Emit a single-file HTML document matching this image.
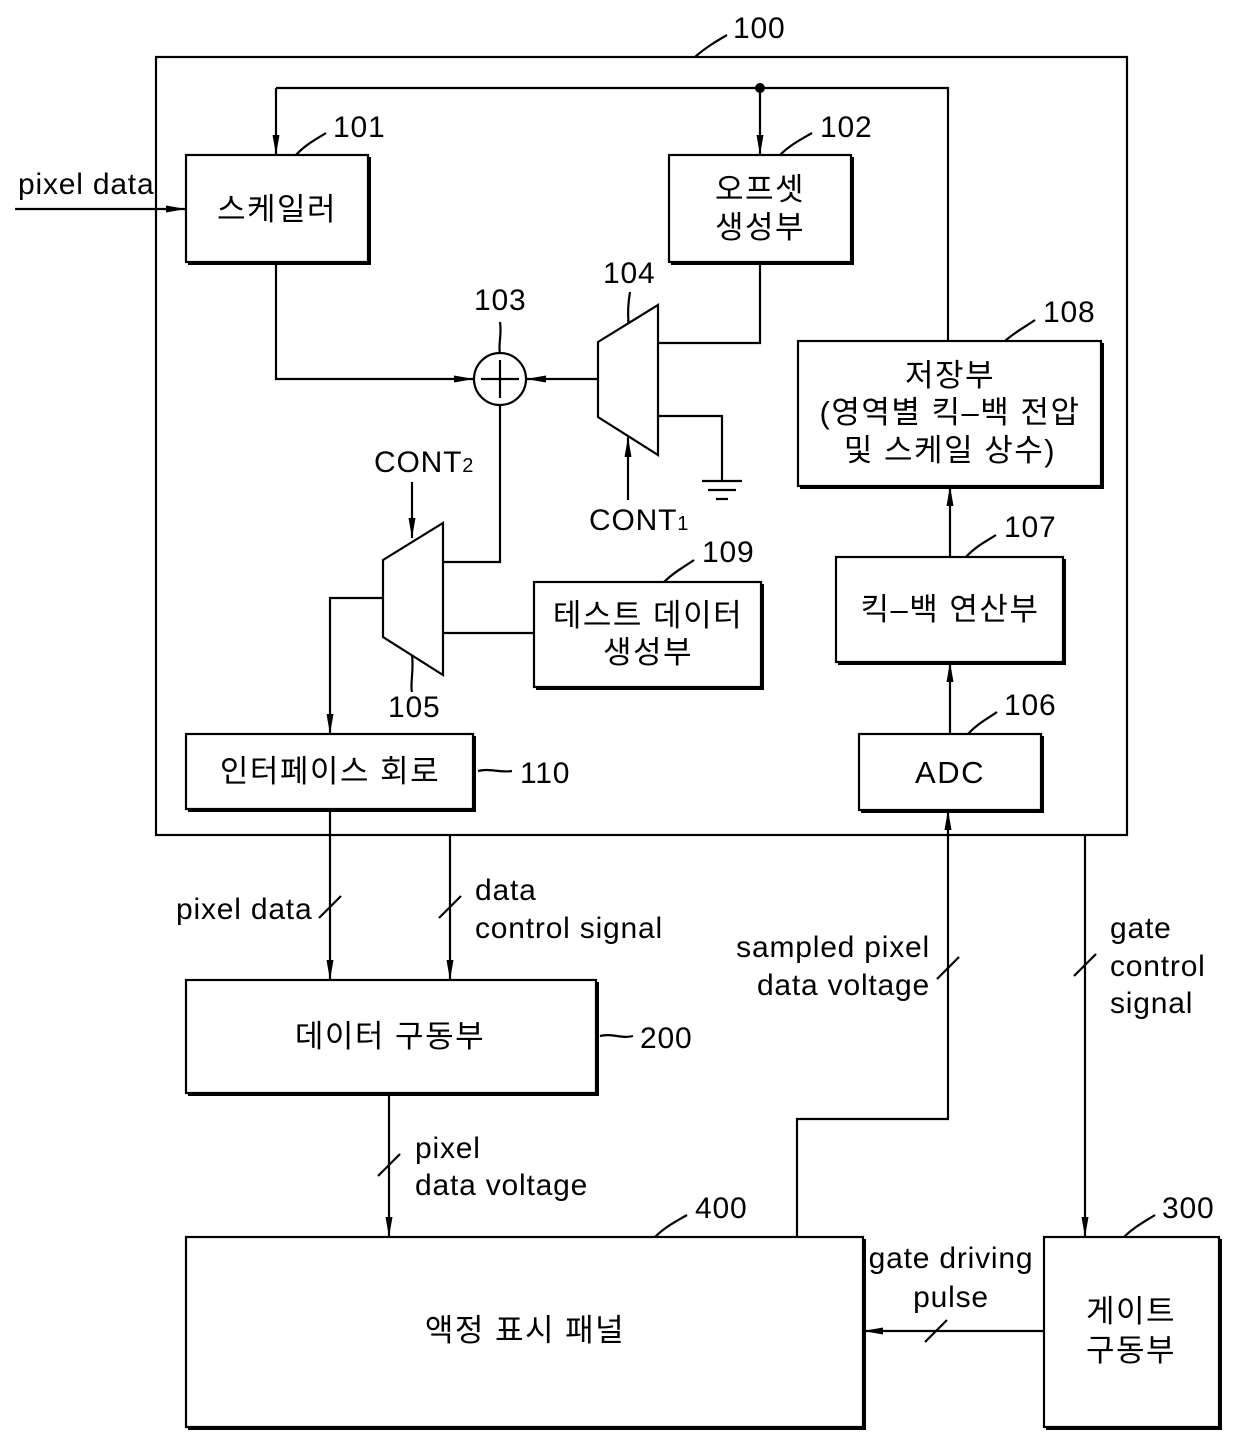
<!DOCTYPE html>
<html><head><meta charset="utf-8"><style>
html,body{margin:0;padding:0;background:#fff}
svg{display:block}
text{font-family:"Liberation Sans","Noto Sans CJK KR","NanumGothic",sans-serif;fill:#000}
.k{font-size:31px;letter-spacing:1.5px}
.l{font-size:30px;letter-spacing:0.8px}
</style></head><body>
<svg width="1240" height="1445" viewBox="0 0 1240 1445" xmlns="http://www.w3.org/2000/svg">
<defs>
<marker id="b" viewBox="0 0 20 10" refX="20" refY="5" markerWidth="20" markerHeight="10" markerUnits="userSpaceOnUse" orient="auto">
<path d="M0,1.5 L20,5 L0,8.5 z" fill="#000"/></marker>
</defs>
<g fill="none" stroke="#000" stroke-width="2.2">
<rect x="156" y="57" width="971" height="778"/>
<path d="M695,57 C705,48 715,42 727,35"/>
<rect x="186" y="155" width="182" height="107"/><path d="M369,157 V263 H188" stroke-width="4"/>
<rect x="669" y="155" width="182" height="107"/><path d="M852,157 V263 H671" stroke-width="4"/>
<rect x="798" y="341" width="303" height="145"/><path d="M1102,343 V487 H800" stroke-width="4"/>
<rect x="836" y="557" width="227" height="105"/><path d="M1064,559 V663 H838" stroke-width="4"/>
<rect x="534" y="582" width="227" height="105"/><path d="M762,584 V688 H536" stroke-width="4"/>
<rect x="186" y="734" width="287" height="75"/><path d="M474,736 V810 H188" stroke-width="4"/>
<rect x="859" y="734" width="182" height="76"/><path d="M1042,736 V811 H861" stroke-width="4"/>
<rect x="186" y="980" width="410" height="113"/><path d="M597,982 V1094 H188" stroke-width="4"/>
<rect x="186" y="1237" width="677" height="190"/><path d="M864,1239 V1428 H188" stroke-width="4"/>
<rect x="1044" y="1237" width="175" height="190"/><path d="M1220,1239 V1428 H1046" stroke-width="4"/>
<path d="M296,155 C305,145 315,140 326,133"/>
<path d="M780,155 C790,145 800,140 812,133"/>
<path d="M1005,341 C1015,332 1025,327 1035,320"/>
<path d="M966,557 C975,547 985,542 996,535"/>
<path d="M664,582 C674,572 684,567 694,560"/>
<path d="M968,734 C977,724 987,719 997,712"/>
<path d="M500,353 C498,345 502,335 500,322"/>
<path d="M628,320 C630,330 626,315 630,292"/>
<path d="M412,655 C414,670 410,685 412,692"/>
<path d="M478,771 C490,768 500,773 512,771"/>
<path d="M600,1036 C612,1033 622,1039 633,1036"/>
<path d="M655,1237 C665,1227 675,1222 687,1215"/>
<path d="M1124,1237 C1134,1227 1144,1222 1155,1215"/>
<path d="M276,88 H948 V341"/>
<path d="M276,88 V155" marker-end="url(#b)"/>
<path d="M760,88 V155" marker-end="url(#b)"/>
<path d="M15,209 H186" marker-end="url(#b)"/>
<circle cx="500" cy="379" r="26"/>
<path d="M500,360 V398 M481,379 H519"/>
<path d="M276,262 V379 H474" marker-end="url(#b)"/>
<path d="M598,379 H526" marker-end="url(#b)"/>
<path d="M598,342 L658,305 V455 L598,417 Z"/>
<path d="M760,262 V343 H658"/>
<path d="M658,416 H722 V480"/>
<path d="M702,481 H742 M708,490 H736 M716,499 H728"/>
<path d="M628,500 V437" marker-end="url(#b)"/>
<path d="M383,560 L443,523 V675 L383,637 Z"/>
<path d="M500,405 V562 H443"/>
<path d="M412,482 V538" marker-end="url(#b)"/>
<path d="M443,633 H534"/>
<path d="M383,598 H330 V734" marker-end="url(#b)"/>
<path d="M950,734 V662" marker-end="url(#b)"/>
<path d="M950,557 V486" marker-end="url(#b)"/>
<path d="M330,809 V980" marker-end="url(#b)"/>
<path d="M450,835 V980" marker-end="url(#b)"/>
<path d="M389,1093 V1237" marker-end="url(#b)"/>
<path d="M797,1237 V1119 H948 V810" marker-end="url(#b)"/>
<path d="M1085,835 V1237" marker-end="url(#b)"/>
<path d="M1044,1331 H863" marker-end="url(#b)"/>
<path d="M319,918 L341,896 M439,918 L461,896 M378,1176 L400,1154 M937,979 L959,957 M1074,976 L1096,954 M925,1342 L947,1320"/>
</g>
<circle cx="760" cy="88" r="5" fill="#000"/>
<g class="k" text-anchor="middle">
<text x="277" y="220">스케일러</text>
<text x="760" y="200">오프셋</text>
<text x="760" y="238">생성부</text>
<text x="950" y="386">저장부</text>
<text x="950" y="423">(영역별 킥–백 전압</text>
<text x="950" y="461">및 스케일 상수)</text>
<text x="950" y="620">킥–백 연산부</text>
<text x="648" y="626">테스트 데이터</text>
<text x="648" y="663">생성부</text>
<text x="330" y="782">인터페이스 회로</text>
<text x="950" y="783">ADC</text>
<text x="390" y="1047">데이터 구동부</text>
<text x="525" y="1341">액정 표시 패널</text>
<text x="1131" y="1322">게이트</text>
<text x="1131" y="1361">구동부</text>
</g>
<g class="l">
<text x="733" y="38">100</text>
<text x="333" y="137">101</text>
<text x="820" y="137">102</text>
<text x="474" y="310">103</text>
<text x="603" y="283">104</text>
<text x="388" y="717">105</text>
<text x="1004" y="715">106</text>
<text x="1004" y="537">107</text>
<text x="1043" y="322">108</text>
<text x="702" y="562">109</text>
<text x="520" y="783">110</text>
<text x="640" y="1048">200</text>
<text x="1162" y="1218">300</text>
<text x="695" y="1218">400</text>
<text x="18" y="194">pixel data</text>
<text x="374" y="472">CONT<tspan font-size="20">2</tspan></text>
<text x="589" y="530">CONT<tspan font-size="20">1</tspan></text>
<text x="176" y="919">pixel data</text>
<text x="475" y="900">data</text>
<text x="475" y="938">control signal</text>
<text x="930" y="957" text-anchor="end">sampled pixel</text>
<text x="930" y="995" text-anchor="end">data voltage</text>
<text x="1110" y="938">gate</text>
<text x="1110" y="976">control</text>
<text x="1110" y="1013">signal</text>
<text x="415" y="1158">pixel</text>
<text x="415" y="1195">data voltage</text>
<text x="951" y="1268" text-anchor="middle">gate driving</text>
<text x="951" y="1307" text-anchor="middle">pulse</text>
</g>
</svg>
</body></html>
